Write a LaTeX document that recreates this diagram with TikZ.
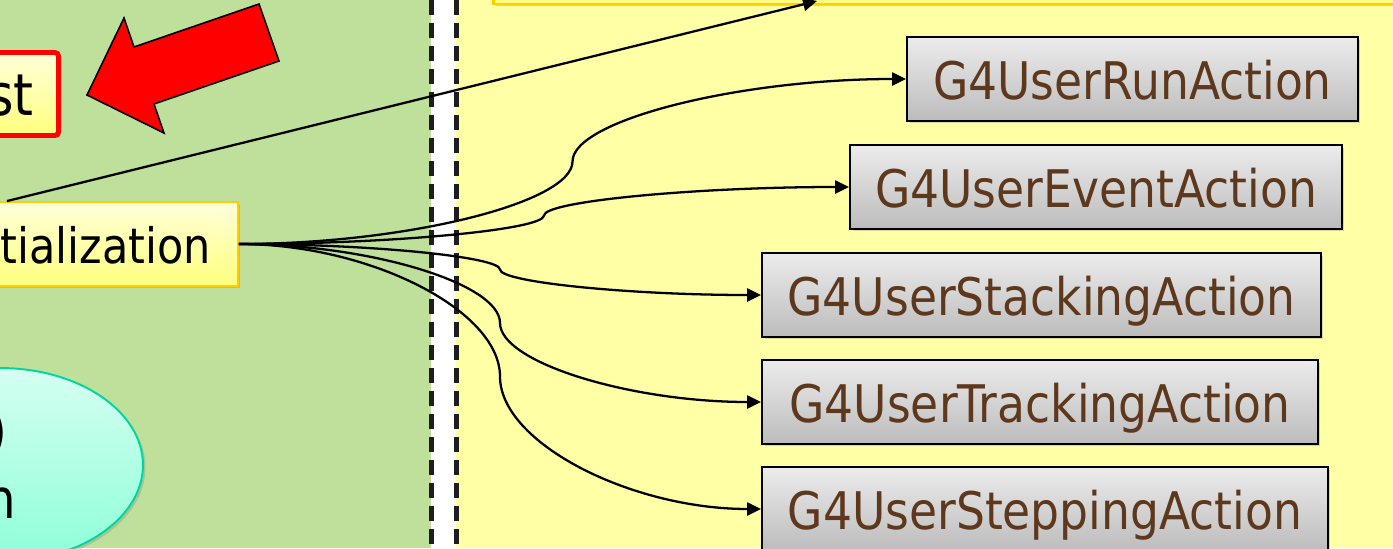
\documentclass[tikz,border=0pt]{standalone}
\usepackage{fontspec}
\newfontfamily\tah{DejaVu Sans}[FakeStretch=0.88]
\usetikzlibrary{arrows.meta,shadows,shapes.geometric,calc}
\definecolor{bggreen}{RGB}{190,224,154}
\definecolor{bgyellow}{RGB}{255,255,166}
\definecolor{dashgray}{RGB}{30,30,30}
\definecolor{txtbrown}{RGB}{94,56,28}
\definecolor{gtop}{RGB}{236,236,236}
\definecolor{gbot}{RGB}{188,188,188}
\definecolor{ytop}{RGB}{255,255,218}
\definecolor{ybot}{RGB}{255,255,125}
\definecolor{gold}{RGB}{255,205,0}
\definecolor{etop}{RGB}{214,255,242}
\definecolor{ebot}{RGB}{140,255,216}
\definecolor{eborder}{RGB}{0,214,160}
\begin{document}
\begin{tikzpicture}[x=0.02cm,y=-0.02cm,
  shad/.style={drop shadow={opacity=0.3,shadow xshift=0.05cm,shadow yshift=-0.05cm}},
  graybox/.style={shad,draw=black,line width=1.1pt,top color=gtop,bottom color=gbot,
    minimum height=1.68cm,inner sep=0pt,text=txtbrown,
    font=\tah\fontsize{29.5}{30}\selectfont,text height=25pt,text depth=1.2pt},
  ybox/.style={shad,draw=gold,line width=1.1pt,top color=ytop,bottom color=ybot,inner sep=0pt},
  lbl/.style={inner sep=0pt,anchor=base east,text=black},
  conn/.style={line width=1.3pt,-{Triangle[length=0.28cm,width=0.26cm]}},
  dashline/.style={draw=dashgray,line width=0.1cm,dash pattern=on 0.3cm off 0.16cm},
  cconn/.style={to path={let \p1=(\tikztostart),\p2=(\tikztotarget) in
     .. controls ({0.75*\x1+0.25*\x2},\y1) and ({0.5*\x1+0.5*\x2},{0.75*\y1+0.25*\y2})
     .. ({0.5*\x1+0.5*\x2},{0.5*\y1+0.5*\y2})
     .. controls ({0.5*\x1+0.5*\x2},{0.25*\y1+0.75*\y2}) and ({0.25*\x1+0.75*\x2},\y2)
     .. (\tikztotarget)}}
]
\useasboundingbox (0,0) rectangle (1393,548);
\clip (0,0) rectangle (1393,548);
% backgrounds
\fill[bggreen] (0,0) rectangle (431,548);
\fill[white] (431,0) rectangle (456,548);
\fill[bgyellow] (456,0) rectangle (1393,548);
\draw[dashline] (431,0) -- (431,548);
\draw[dashline] (456,0) -- (456,548);
% top box
\node[ybox,line width=1.7pt,minimum width=19.14cm,minimum height=1.28cm] (top) at (971.5,-28) {};
\coordinate (topin) at (817,1);
% red box
\node[ybox,draw=red,line width=2.8pt,rounded corners=2pt,minimum width=4.17cm,minimum height=1.66cm] (warn) at (-45.75,94) {};
\node[lbl,font=\tah\fontsize{32.9}{33}\selectfont] (stlbl) at (34,115) {st};
% red arrow
\draw[fill=red,line width=0.9pt,line join=miter] (87,95) -- (124,18) -- (134,47) -- (259,4) -- (279,61) -- (154,104) -- (164,133) -- cycle;
% init box
\node[ybox,minimum width=9.24cm,minimum height=1.68cm] (init) at (7,244) {};
\node[lbl,font=\tah\fontsize{27.8}{28}\selectfont] (initlbl) at (211,263) {tialization};
% ellipse
\node[ellipse,shad,draw=eborder,line width=1.1pt,top color=etop,bottom color=ebot,minimum width=5.72cm,minimum height=3.88cm,inner sep=0pt] (ell) at (0,465) {};
\node[lbl,font=\tah\fontsize{31.2}{31}\selectfont] (ella) at (8,450) {)};
\node[lbl,font=\tah\fontsize{31.2}{31}\selectfont] (ellb) at (16,518) {n};
% action boxes
\node[graybox,minimum width=9.02cm] (run) at (1132.5,79) {G4UserRunAction};
\node[graybox,minimum width=9.84cm] (event) at (1096,187) {G4UserEventAction};
\node[graybox,minimum width=11.18cm] (stack) at (1041.5,295) {G4UserStackingAction};
\node[graybox,minimum width=11.12cm] (track) at (1040,402) {G4UserTrackingAction};
\node[graybox,minimum width=11.32cm] (step) at (1045,509) {G4UserSteppingAction};
% connectors
\draw[conn] (init.north) -- (topin);
\draw[conn] (init.east) to[cconn] (run.west);
\draw[conn] (init.east) to[cconn] (event.west);
\draw[conn] (init.east) to[cconn] (stack.west);
\draw[conn] (init.east) to[cconn] (track.west);
\draw[conn] (init.east) to[cconn] (step.west);
\end{tikzpicture}
\end{document}
